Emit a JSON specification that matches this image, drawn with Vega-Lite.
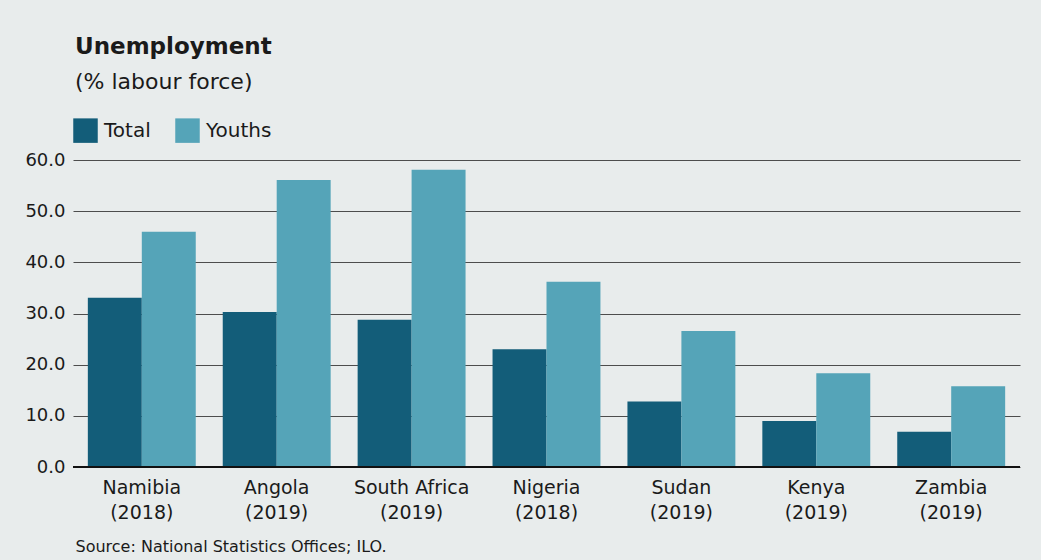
{
  "$schema": "https://vega.github.io/schema/vega-lite/v6.json",
  "width": 947,
  "height": 307,
  "autosize": "none",
  "padding": {"left": 73, "top": 160, "right": 21, "bottom": 93},
  "background": "#e8ecec",
  "title": {
    "text": "Unemployment",
    "subtitle": "(% labour force)",
    "anchor": "start",
    "frame": "group",
    "offset": 25,
    "dx": 2,
    "font": "DejaVu Sans",
    "fontSize": 23,
    "fontWeight": "bold",
    "color": "#1a1a1a",
    "subtitleFont": "DejaVu Sans",
    "subtitleFontSize": 22,
    "subtitleColor": "#1a1a1a",
    "subtitlePadding": 13
  },
  "config": {
    "view": {"stroke": null},
    "font": "DejaVu Sans"
  },
  "data": {
    "values": [
      {"country": "Namibia|(2018)", "series": "Total", "value": 33.1},
      {"country": "Namibia|(2018)", "series": "Youths", "value": 46.0},
      {"country": "Angola|(2019)", "series": "Total", "value": 30.3},
      {"country": "Angola|(2019)", "series": "Youths", "value": 56.1},
      {"country": "South Africa|(2019)", "series": "Total", "value": 28.8},
      {"country": "South Africa|(2019)", "series": "Youths", "value": 58.1},
      {"country": "Nigeria|(2018)", "series": "Total", "value": 23.0},
      {"country": "Nigeria|(2018)", "series": "Youths", "value": 36.2},
      {"country": "Sudan|(2019)", "series": "Total", "value": 12.8},
      {"country": "Sudan|(2019)", "series": "Youths", "value": 26.6},
      {"country": "Kenya|(2019)", "series": "Total", "value": 9.0},
      {"country": "Kenya|(2019)", "series": "Youths", "value": 18.3},
      {"country": "Zambia|(2019)", "series": "Total", "value": 6.9},
      {"country": "Zambia|(2019)", "series": "Youths", "value": 15.8}
    ]
  },
  "layer": [
    {
      "mark": {"type": "bar"},
      "encoding": {
        "x": {
          "field": "country",
          "type": "nominal",
          "sort": null,
          "scale": {"paddingInner": 0.2, "paddingOuter": 0.11},
          "axis": {
            "title": "Source: National Statistics Offices; ILO.",
            "titleAnchor": null,
            "titleAlign": "left",
            "titleX": 2,
            "titleY": 84,
            "titleBaseline": "alphabetic",
            "titleFontSize": 16,
            "titleFontWeight": "normal",
            "titleColor": "#1a1a1a",
            "labelExpr": "split(datum.label, '|')",
            "labelAngle": 0,
            "labelFontSize": 19,
            "labelLineHeight": 25,
            "labelColor": "#1a1a1a",
            "labelPadding": 11,
            "domain": false,
            "ticks": false
          }
        },
        "xOffset": {"field": "series", "type": "nominal", "scale": {"paddingInner": 0, "paddingOuter": 0}},
        "y": {
          "field": "value",
          "type": "quantitative",
          "scale": {"domain": [0, 60], "nice": false},
          "axis": {
            "title": null,
            "values": [0, 10, 20, 30, 40, 50, 60],
            "format": ".1f",
            "grid": true,
            "gridColor": "#4d4d4d",
            "gridWidth": 1,
            "domain": false,
            "ticks": false,
            "labelPadding": 8,
            "labelFontSize": 18,
            "labelColor": "#1a1a1a"
          }
        },
        "color": {
          "field": "series",
          "type": "nominal",
          "scale": {"domain": ["Total", "Youths"], "range": ["#135d79", "#55a4b8"]},
          "legend": {
            "title": null,
            "orient": "none",
            "legendX": 0,
            "legendY": -42,
            "direction": "horizontal",
            "symbolType": "square",
            "symbolSize": 600,
            "symbolStrokeWidth": 0,
            "symbolOpacity": 1,
            "labelFontSize": 20,
            "labelColor": "#1a1a1a",
            "labelOffset": 6,
            "columnPadding": 24
          }
        }
      }
    },
    {
      "mark": {"type": "rule", "color": "#111111", "strokeWidth": 2},
      "encoding": {"y": {"datum": 0}}
    }
  ]
}
